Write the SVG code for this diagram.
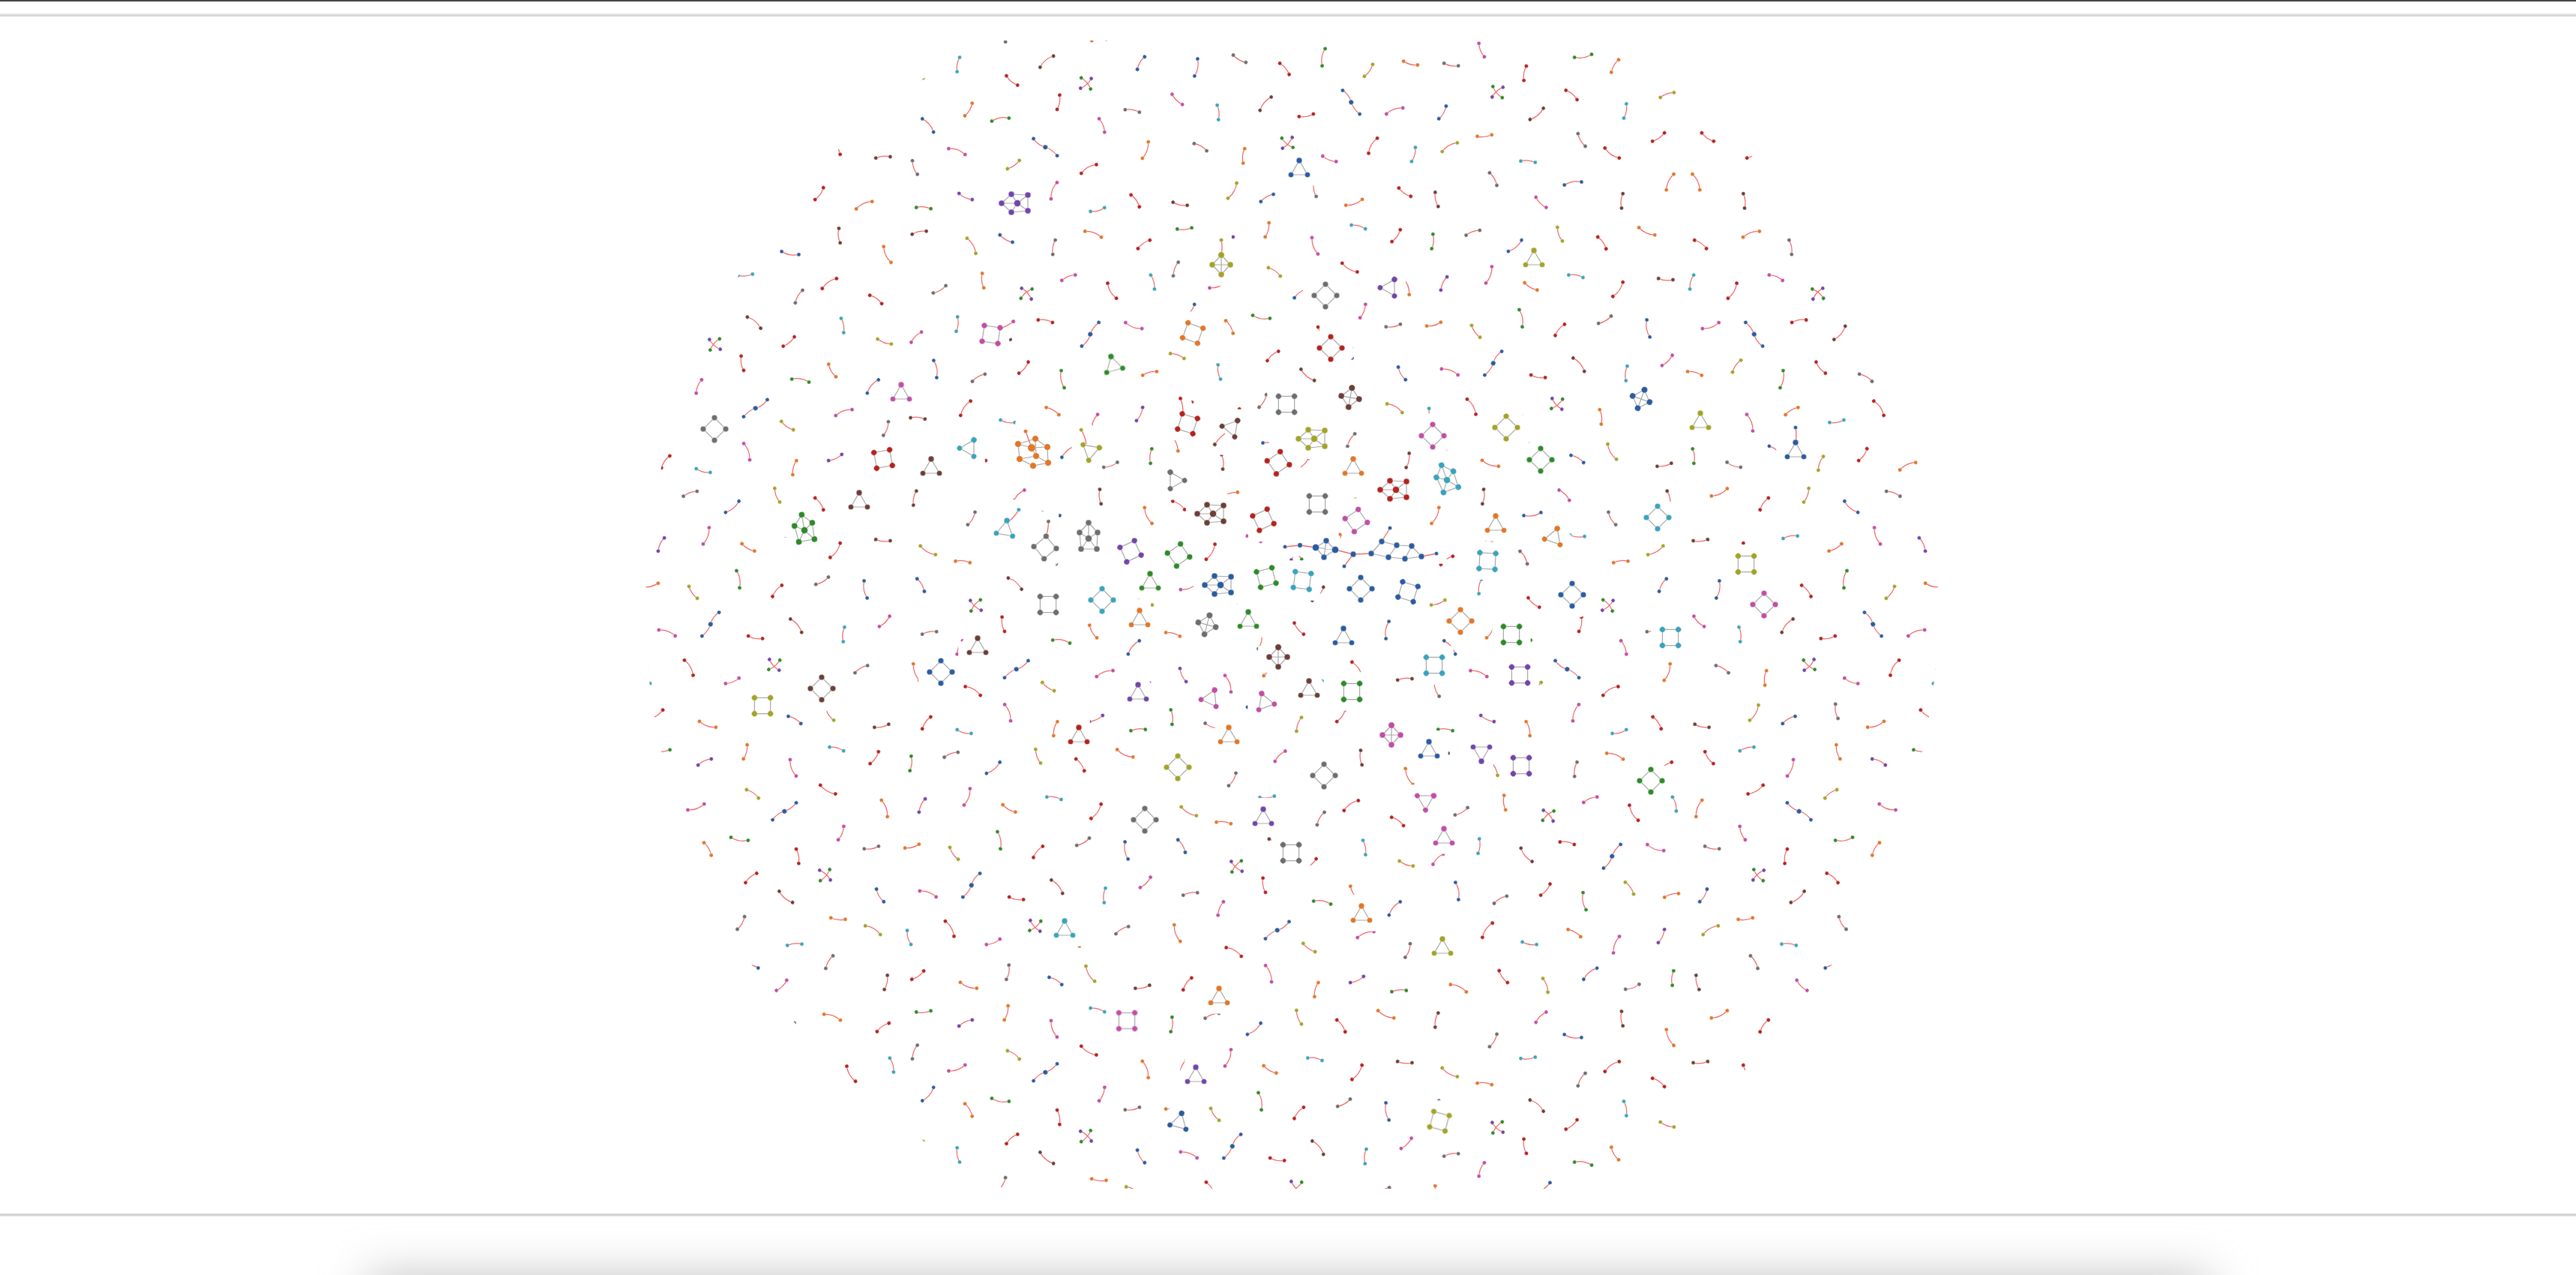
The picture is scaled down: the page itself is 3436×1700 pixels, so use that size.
<svg xmlns="http://www.w3.org/2000/svg" width="3436" height="1700" viewBox="0 0 3436 1700">
<style>
.r{fill:none;stroke:#f26a6a;stroke-width:1.3}
.g{fill:none;stroke:#a9a9a9;stroke-width:1.2}
.s{stroke:#fff;stroke-opacity:.45;stroke-width:.8}
.b{stroke:#fff;stroke-opacity:.4;stroke-width:1}
.c0{fill:#2b5c9e}.c1{fill:#e0772a}.c2{fill:#2f8a2a}.c3{fill:#b3241f}.c4{fill:#7246a8}
.c5{fill:#6b3f38}.c6{fill:#c04fa6}.c7{fill:#6e6e6e}.c8{fill:#a3a32a}.c9{fill:#3ba3bb}
</style>
<defs>
<clipPath id="cd"><circle cx="1723" cy="813" r="862"/></clipPath>
<clipPath id="cr"><rect x="0" y="54" width="3436" height="1531"/></clipPath>
<filter id="bl" x="300" y="1500" width="2900" height="400" filterUnits="userSpaceOnUse"><feGaussianBlur stdDeviation="30"/></filter>
<filter id="halo" x="-5%" y="-5%" width="110%" height="110%"><feMorphology in="SourceAlpha" operator="dilate" radius="11" result="d"/><feFlood flood-color="#fff"/><feComposite in2="d" operator="in"/></filter>
<g id="p"><path class="r" d="M-10 0Q0-3.5 10 0"/><circle class="s" cx="-10" r="2.6"/><circle class="s" cx="10" r="2.6"/></g>
<g id="q"><path class="r" d="M-12 0Q0-5 12 0"/><circle class="s" cx="-12" r="2.6"/><circle class="s" cx="12" r="2.6"/></g>
<g id="k"><path class="r" d="M-20 2Q-10-2 0 0Q10 3 20-2"/><circle class="s" cx="-20" cy="2" r="2.6"/><circle class="s" r="3.3"/><circle class="s" cx="20" cy="-2" r="2.6"/></g>
<g id="pe"><path class="r" d="M0 0Q2-10 0-20"/><circle class="s" cy="-20" r="2.6"/></g>
<g id="D"><path class="g" d="M0-15L15 0L0 15L-15 0Z"/><circle class="b" cy="-15" r="3.8"/><circle class="b" cx="15" r="3.8"/><circle class="b" cy="15" r="3.8"/><circle class="b" cx="-15" r="3.8"/></g>
<g id="T"><path class="g" d="M0-12L11 7L-11 7Z"/><circle class="b" cy="-12" r="3.9"/><circle class="b" cx="11" cy="7" r="3.6"/><circle class="b" cx="-11" cy="7" r="3.6"/></g>
<g id="K"><path class="g" d="M0-13L12 0L0 13L-12 0ZM0-13V13M-12 0H12"/><circle class="b" cy="-13" r="4.2"/><circle class="b" cx="12" r="4"/><circle class="b" cy="13" r="4"/><circle class="b" cx="-12" r="4"/></g>
<g id="W"><path class="g" d="M-8-12L14-11L14 10L-8 12L-21 0ZM-8-12L0 0L-21 0M0 0L-8 12M0 0L14-11M0 0L14 10"/><circle class="b" cx="-8" cy="-12" r="4"/><circle class="b" cx="14" cy="-11" r="4"/><circle class="b" cx="-21" r="4"/><circle class="b" r="4.5"/><circle class="b" cx="-8" cy="12" r="4"/><circle class="b" cx="14" cy="10" r="4"/></g>
<g id="H"><path class="r" d="M-10-23L-2-1"/><path class="g" d="M-20-6L3-13L19-2L20 19L0 23L-18 14ZM-20-6L-2-1L19-2M-2-1L4 10L-18 14M4 10L20 19M3-13L4 10"/><circle class="s" cx="-10" cy="-23" r="2.6"/><circle class="b" cx="3" cy="-13" r="4.3"/><circle class="b" cx="-20" cy="-6" r="4.3"/><circle class="b" cx="-2" cy="-1" r="5.2"/><circle class="b" cx="19" cy="-2" r="4.3"/><circle class="b" cx="4" cy="10" r="4.3"/><circle class="b" cx="-18" cy="14" r="4.3"/><circle class="b" cx="20" cy="19" r="4.3"/><circle class="b" cy="23" r="4.3"/></g>
<g id="A" transform="scale(.9667)">
<use href="#p" class="c3" transform="translate(24 36)rotate(35)"/>
<use href="#q" class="c1" transform="translate(94 22)rotate(-20)"/>
<use href="#p" class="c7" transform="translate(148 40)rotate(80)"/>
<use href="#p" class="c0" transform="translate(214 28)rotate(150)"/>
<use href="#q" class="c8" transform="translate(262 38)rotate(-60)"/>
<use href="#p" class="c5" transform="translate(334 20)rotate(12)"/>
<use href="#p" class="c9" transform="translate(12 88)rotate(-75)"/>
<use href="#q" class="c3" transform="translate(68 100)rotate(120)"/>
<use href="#p" class="c6" transform="translate(128 82)rotate(22)"/>
<use href="#p" class="c2" transform="translate(186 104)rotate(40)"/>
<use href="#p" class="c4" transform="translate(186 104)rotate(-48)"/>
<use href="#p" class="c1" transform="translate(246 86)rotate(96)"/>
<use href="#p" class="c7" transform="translate(306 98)rotate(-150)"/>
<use href="#q" class="c6" transform="translate(38 148)rotate(160)"/>
<use href="#k" class="c0" transform="translate(98 160)rotate(60)"/>
<use href="#p" class="c3" transform="translate(160 142)rotate(-10)"/>
<use href="#q" class="c5" transform="translate(216 158)rotate(130)"/>
<use href="#p" class="c9" transform="translate(282 146)rotate(-95)"/>
<use href="#p" class="c6" transform="translate(338 164)rotate(45)"/>
<use href="#p" class="c1" transform="translate(16 214)rotate(15)"/>
<use href="#p" class="c8" transform="translate(74 204)rotate(-55)"/>
<use href="#q" class="c2" transform="translate(136 222)rotate(100)"/>
<use href="#p" class="c3" transform="translate(190 206)rotate(-130)"/>
<use href="#p" class="c7" transform="translate(252 220)rotate(30)"/>
<use href="#q" class="c0" transform="translate(312 208)rotate(-80)"/>
<use href="#p" class="c4" transform="translate(30 270)rotate(-115)"/>
<use href="#q" class="c6" transform="translate(92 282)rotate(70)"/>
<use href="#p" class="c1" transform="translate(150 266)rotate(-30)"/>
<use href="#p" class="c9" transform="translate(212 280)rotate(170)"/>
<use href="#q" class="c3" transform="translate(270 262)rotate(55)"/>
<use href="#p" class="c5" transform="translate(336 276)rotate(-5)"/>
<use href="#p" class="c2" transform="translate(14 328)rotate(85)"/>
<use href="#p" class="c7" transform="translate(70 340)rotate(-160)"/>
<use href="#q" class="c0" transform="translate(128 322)rotate(40)"/>
<use href="#p" class="c8" transform="translate(190 338)rotate(-70)"/>
<use href="#p" class="c3" transform="translate(248 326)rotate(125)"/>
<use href="#q" class="c1" transform="translate(310 342)rotate(-25)"/>
</g>
</defs>
<rect width="3436" height="1700" fill="#fff"/>
<rect x="0" y="0" width="3436" height="2" fill="#444"/>
<rect x="0" y="18" width="3436" height="1.5" fill="#e5e5e5"/>
<rect x="0" y="19.5" width="3436" height="2.5" fill="#d6d6d6"/>
<rect x="0" y="1618" width="3436" height="3" fill="#d4d4d4"/>
<rect x="0" y="1621" width="3436" height="1" fill="#e8e8e8"/>
<rect x="490" y="1700" width="2457" height="150" fill="#c4c4c4" filter="url(#bl)"/>
<g clip-path="url(#cr)">
<g id="pairs" clip-path="url(#cd)">
<use href="#A" transform="translate(1027 117)rotate(0)translate(-174 -174)"/>
<use href="#A" transform="translate(1375 117)rotate(90)scale(-1 1)translate(-174 -174)"/>
<use href="#A" transform="translate(1723 117)rotate(180)translate(-174 -174)"/>
<use href="#A" transform="translate(2071 117)rotate(270)scale(-1 1)translate(-174 -174)"/>
<use href="#A" transform="translate(2419 117)rotate(90)translate(-174 -174)"/>
<use href="#A" transform="translate(1027 465)rotate(270)translate(-174 -174)"/>
<use href="#A" transform="translate(1375 465)rotate(0)scale(-1 1)translate(-174 -174)"/>
<use href="#A" transform="translate(1723 465)rotate(90)translate(-174 -174)"/>
<use href="#A" transform="translate(2071 465)rotate(180)scale(-1 1)translate(-174 -174)"/>
<use href="#A" transform="translate(2419 465)rotate(0)translate(-174 -174)"/>
<use href="#A" transform="translate(1027 813)rotate(180)scale(-1 1)translate(-174 -174)"/>
<use href="#A" transform="translate(1375 813)rotate(270)translate(-174 -174)"/>
<use href="#A" transform="translate(1723 813)rotate(0)translate(-174 -174)"/>
<use href="#A" transform="translate(2071 813)rotate(90)scale(-1 1)translate(-174 -174)"/>
<use href="#A" transform="translate(2419 813)rotate(180)translate(-174 -174)"/>
<use href="#A" transform="translate(1027 1161)rotate(90)translate(-174 -174)"/>
<use href="#A" transform="translate(1375 1161)rotate(180)scale(-1 1)translate(-174 -174)"/>
<use href="#A" transform="translate(1723 1161)rotate(270)translate(-174 -174)"/>
<use href="#A" transform="translate(2071 1161)rotate(0)scale(-1 1)translate(-174 -174)"/>
<use href="#A" transform="translate(2419 1161)rotate(270)scale(-1 1)translate(-174 -174)"/>
<use href="#A" transform="translate(1027 1509)rotate(0)scale(-1 1)translate(-174 -174)"/>
<use href="#A" transform="translate(1375 1509)rotate(90)translate(-174 -174)"/>
<use href="#A" transform="translate(1723 1509)rotate(180)scale(-1 1)translate(-174 -174)"/>
<use href="#A" transform="translate(2071 1509)rotate(270)translate(-174 -174)"/>
<use href="#A" transform="translate(2419 1509)rotate(180)translate(-174 -174)"/>
</g>
<use href="#nodes" filter="url(#halo)"/>
<g id="nodes">
<g id="n1"><use href="#T" class="c0" transform="translate(1733 226)"/></g>
<g id="n2"><use href="#W" class="c4" transform="translate(1357 271)"/></g>
<g id="n3"><use href="#pe" class="c8" transform="translate(1629 340)"/><use href="#K" class="c8" transform="translate(1629 353)"/></g>
<g id="n4"><use href="#T" class="c8" transform="translate(2046 346)"/></g>
<g id="n5"><use href="#T" class="c4" transform="translate(1854 383)rotate(30)"/></g>
<g id="n6"><use href="#D" class="c7" transform="translate(1768 394)"/></g>
<g id="n7"><use href="#pe" class="c6" transform="translate(1334 438)rotate(62)"/><use href="#D" class="c6" transform="translate(1322 446)rotate(53)"/></g>
<g id="n8"><use href="#D" class="c1" transform="translate(1591 444)rotate(65)"/></g>
<g id="n9"><use href="#D" class="c3" transform="translate(1775 464)"/></g>
<g id="n10"><use href="#T" class="c2" transform="translate(1485 487)rotate(-15)"/></g>
<g id="n11"><use href="#K" class="c0" transform="translate(2189 532)rotate(20)"/></g>
<g id="n12"><use href="#K" class="c5" transform="translate(1801 530)rotate(10)"/></g>
<g id="n13"><use href="#D" class="c7" transform="translate(1716 539)rotate(45)"/></g>
<g id="n14"><use href="#D" class="c7" transform="translate(953 572)"/></g>
<g id="n15"><use href="#pe" class="c3" transform="translate(1578 551)rotate(-10)"/><use href="#D" class="c3" transform="translate(1584 565)rotate(62)"/></g>
<g id="n16"><use href="#pe" class="c5" transform="translate(1634 578)rotate(-137)"/><use href="#T" class="c5" transform="translate(1643 570)rotate(40)"/></g>
<g id="n17"><use href="#W" class="c8" transform="translate(1753 585)"/></g>
<g id="n18"><use href="#D" class="c6" transform="translate(1911 581)"/></g>
<g id="n19"><use href="#D" class="c8" transform="translate(2009 570)"/></g>
<g id="n20"><use href="#D" class="c3" transform="translate(1178 612)rotate(35)"/></g>
<g id="n21"><use href="#T" class="c5" transform="translate(1242 624)"/></g>
<g id="n22"><use href="#T" class="c9" transform="translate(1293 597)rotate(30)"/></g>
<g id="n23"><use href="#H" class="c1" transform="translate(1378 598)"/></g>
<g id="n24"><use href="#pe" class="c8" transform="translate(1449 592)rotate(-20)"/><use href="#T" class="c8" transform="translate(1455 601)rotate(70)"/></g>
<g id="n25"><use href="#D" class="c2" transform="translate(2055 613)"/></g>
<g id="n26"><use href="#pe" class="c0" transform="translate(2395 590)"/><use href="#T" class="c0" transform="translate(2395 602)"/></g>
<g id="n27"><use href="#W" class="c3" transform="translate(1862 653)"/></g>
<g id="n28"><use href="#W" class="c9" transform="translate(1930 640)rotate(70)"/></g>
<g id="n29"><use href="#D" class="c7" transform="translate(1757 672)rotate(45)"/></g>
<g id="n30"><use href="#W" class="c5" transform="translate(1618 685)"/></g>
<g id="n31"><use href="#D" class="c3" transform="translate(1685 693)rotate(20)"/></g>
<g id="n32"><use href="#W" class="c7" transform="translate(1452 718)rotate(90)"/></g>
<g id="n33"><use href="#pe" class="c7" transform="translate(1395 715)rotate(10)"/><use href="#D" class="c7" transform="translate(1394 730)rotate(5)"/></g>
<g id="n34"><use href="#pe" class="c9" transform="translate(1346 695)rotate(40)"/><use href="#T" class="c9" transform="translate(1341 706)rotate(10)"/></g>
<g id="n35"><use href="#D" class="c4" transform="translate(1508 735)rotate(20)"/></g>
<g id="n36"><use href="#D" class="c2" transform="translate(1572 740)rotate(10)"/></g>
<g id="n37"><use href="#W" class="c0" transform="translate(1628 780)"/></g>
<g id="n38" class="c0">
<path class="r" d="M1714 729L1734 727L1755 730M1781 733L1805 739L1793 755M1805 739L1829 738M1843 722L1854 704M1896 742L1916 738"/>
<path class="g" d="M1755 730L1769 721L1781 733L1766 743ZM1755 730L1781 733M1769 721L1766 743M1829 738L1843 722L1863 727L1883 728L1896 742L1874 745L1852 743ZM1863 727L1852 743M1883 728L1874 745"/>
<circle class="s" cx="1714" cy="729" r="2.6"/><circle class="b" cx="1734" cy="727" r="3.3"/><circle class="b" cx="1755" cy="730" r="4.6"/><circle class="b" cx="1769" cy="721" r="3.9"/><circle class="b" cx="1781" cy="733" r="4.6"/><circle class="b" cx="1766" cy="743" r="3.9"/><circle class="b" cx="1805" cy="739" r="3.9"/><circle class="s" cx="1793" cy="755" r="2.6"/><circle class="b" cx="1829" cy="738" r="3.9"/><circle class="b" cx="1843" cy="722" r="3.9"/><circle class="s" cx="1854" cy="704" r="2.6"/><circle class="b" cx="1863" cy="727" r="3.9"/><circle class="b" cx="1883" cy="728" r="3.9"/><circle class="b" cx="1852" cy="743" r="3.9"/><circle class="b" cx="1874" cy="745" r="3.9"/><circle class="b" cx="1896" cy="742" r="3.9"/><circle class="s" cx="1916" cy="738" r="2.6"/>
</g>
<g id="n39"><use href="#D" class="c6" transform="translate(1809 694)rotate(10)"/></g>
<g id="n40"><use href="#D" class="c9" transform="translate(1737 774)rotate(52)"/></g>
<g id="n41"><use href="#D" class="c0" transform="translate(1815 785)"/></g>
<g id="n42"><use href="#D" class="c0" transform="translate(1878 789)rotate(62)"/></g>
<g id="n43"><use href="#D" class="c9" transform="translate(1984 748)rotate(48)"/></g>
<g id="n44"><use href="#T" class="c1" transform="translate(1995 700)"/></g>
<g id="n45"><use href="#T" class="c1" transform="translate(2073 716)rotate(20)"/></g>
<g id="n46"><use href="#D" class="c9" transform="translate(2211 690)"/></g>
<g id="n47"><use href="#D" class="c8" transform="translate(2329 752)rotate(45)"/></g>
<g id="n48"><use href="#D" class="c0" transform="translate(2097 793)"/></g>
<g id="n49"><use href="#D" class="c6" transform="translate(2353 806)"/></g>
<g id="n50"><use href="#D" class="c9" transform="translate(2228 850)rotate(45)"/></g>
<g id="n51"><use href="#D" class="c2" transform="translate(2016 846)rotate(45)"/></g>
<g id="n52"><use href="#D" class="c1" transform="translate(1948 828)"/></g>
<g id="n53"><use href="#D" class="c9" transform="translate(1913 887)rotate(45)"/></g>
<g id="n54"><use href="#T" class="c0" transform="translate(1792 850)"/></g>
<g id="n55"><use href="#K" class="c5" transform="translate(1705 876)"/></g>
<g id="n56"><use href="#T" class="c2" transform="translate(1665 828)"/></g>
<g id="n57"><use href="#K" class="c7" transform="translate(1610 833)rotate(15)"/></g>
<g id="n58"><use href="#T" class="c1" transform="translate(1520 826)"/></g>
<g id="n59"><use href="#D" class="c9" transform="translate(1470 800)"/></g>
<g id="n60"><use href="#D" class="c7" transform="translate(1398 806)rotate(45)"/></g>
<g id="n61"><use href="#D" class="c0" transform="translate(1255 896)"/></g>
<g id="n62"><use href="#T" class="c5" transform="translate(1304 863)"/></g>
<g id="n63"><use href="#D" class="c5" transform="translate(1096 918)"/></g>
<g id="n64"><use href="#D" class="c8" transform="translate(1017 941)rotate(45)"/></g>
<g id="n65"><use href="#W" class="c2" transform="translate(1073 707)rotate(80)"/></g>
<g id="n66"><use href="#T" class="c5" transform="translate(1146 669)"/></g>
<g id="n67"><use href="#T" class="c3" transform="translate(1439 982)"/></g>
<g id="n68"><use href="#T" class="c4" transform="translate(1518 925)"/></g>
<g id="n69"><use href="#T" class="c6" transform="translate(1615 931)rotate(25)"/></g>
<g id="n70"><use href="#T" class="c1" transform="translate(1639 982)"/></g>
<g id="n71"><use href="#T" class="c6" transform="translate(1687 936)rotate(-20)"/></g>
<g id="n72"><use href="#T" class="c5" transform="translate(1746 920)"/></g>
<g id="n73"><use href="#D" class="c2" transform="translate(1803 922)rotate(45)"/></g>
<g id="n74"><use href="#K" class="c6" transform="translate(1856 980)"/></g>
<g id="n75"><use href="#T" class="c0" transform="translate(1906 1001)"/></g>
<g id="n76"><use href="#T" class="c4" transform="translate(1976 1003)rotate(180)"/></g>
<g id="n77"><use href="#D" class="c4" transform="translate(2027 900)rotate(45)"/></g>
<g id="n78"><use href="#D" class="c4" transform="translate(2029 1021)rotate(45)"/></g>
<g id="n79"><use href="#D" class="c2" transform="translate(2202 1041)"/></g>
<g id="n80"><use href="#D" class="c8" transform="translate(1571 1023)"/></g>
<g id="n81"><use href="#D" class="c7" transform="translate(1527 1093)"/></g>
<g id="n82"><use href="#T" class="c4" transform="translate(1685 1091)"/></g>
<g id="n83"><use href="#D" class="c7" transform="translate(1722 1137)rotate(45)"/></g>
<g id="n84"><use href="#D" class="c7" transform="translate(1766 1034)"/></g>
<g id="n85"><use href="#T" class="c6" transform="translate(1926 1117)"/></g>
<g id="n86"><use href="#T" class="c6" transform="translate(1902 1067)rotate(60)"/></g>
<g id="n87"><use href="#T" class="c1" transform="translate(1816 1220)"/></g>
<g id="n88"><use href="#T" class="c8" transform="translate(1924 1264)"/></g>
<g id="n89"><use href="#T" class="c1" transform="translate(1626 1330)"/></g>
<g id="n90"><use href="#T" class="c4" transform="translate(1595 1435)"/></g>
<g id="n91"><use href="#T" class="c0" transform="translate(1573 1496)rotate(15)"/></g>
<g id="n92"><use href="#D" class="c8" transform="translate(1920 1495)rotate(60)"/></g>
<g id="n93"><use href="#T" class="c9" transform="translate(1420 1240)"/></g>
<g id="n94"><use href="#D" class="c6" transform="translate(1503 1361)rotate(45)"/></g>
<g id="n95"><use href="#T" class="c8" transform="translate(2268 563)"/></g>
<g id="n96"><use href="#T" class="c1" transform="translate(1805 624)"/></g>
<g id="n97"><use href="#D" class="c3" transform="translate(1705 617)rotate(10)"/></g>
<g id="n98"><use href="#T" class="c7" transform="translate(1567 640)rotate(-30)"/></g>
<g id="n99"><use href="#T" class="c2" transform="translate(1534 777)"/></g>
<g id="n100"><use href="#D" class="c2" transform="translate(1689 770)rotate(30)"/></g>
<g id="n101"><use href="#T" class="c6" transform="translate(1202 525)"/></g>
</g>
</g>
</svg>
